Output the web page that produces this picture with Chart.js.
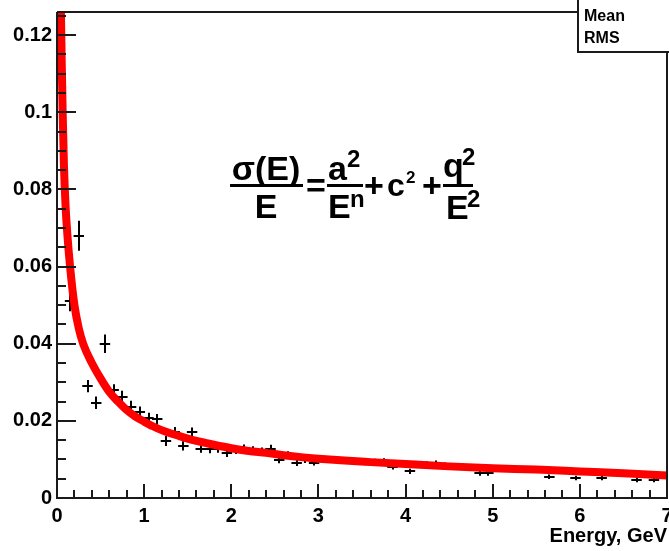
<!DOCTYPE html>
<html>
<head>
<meta charset="utf-8">
<script src="https://cdn.jsdelivr.net/npm/chart.js"></script>
<style>
  body { margin: 0; background: #fff; }
</style>
</head>
<body>
<canvas id="chart" width="669" height="551"></canvas>
<script>
// measured points: bin centre (GeV), sigma/E, stat error
const dataE = [0.15, 0.25, 0.35, 0.45, 0.55, 0.65, 0.75, 0.85, 0.95, 1.05, 1.15, 1.25, 1.35, 1.45, 1.55,
  1.65, 1.75, 1.85, 1.95, 2.05, 2.15, 2.25, 2.35, 2.45, 2.55, 2.65, 2.75, 2.85, 2.95,
  3.05, 3.15, 3.25, 3.35, 3.55, 3.65, 3.75, 3.85, 3.95, 4.05, 4.25, 4.35, 4.45,
  4.85, 4.95, 5.05, 5.15, 5.55, 5.65, 5.85, 5.95, 6.25, 6.65, 6.85]
const dataSigma = [0.051, 0.068, 0.029, 0.0247, 0.040, 0.0279, 0.0262, 0.0237, 0.0222, 0.0207, 0.0204, 0.0148, 0.0171, 0.0135, 0.0171,
  0.0128, 0.0127, 0.0128, 0.0117, 0.0124, 0.0129, 0.0124, 0.0121, 0.0128, 0.0098, 0.0113, 0.0091, 0.0098, 0.0091,
  0.0099, 0.0099, 0.0099, 0.0096, 0.0096, 0.0095, 0.0096, 0.0081, 0.0089, 0.0069, 0.0088, 0.0090, 0.0085,
  0.0064, 0.0064, 0.0078, 0.0077, 0.0076, 0.0055, 0.0074, 0.0052, 0.0052, 0.0047, 0.0047]
const dataErr = [0.0026, 0.0039, 0.0016, 0.0016, 0.0024, 0.0016, 0.0016, 0.0015, 0.0015, 0.0014, 0.0014, 0.0013, 0.0013, 0.0012, 0.0012,
  0.0011, 0.0011, 0.0011, 0.0011, 0.0010, 0.0010, 0.0010, 0.0010, 0.0010, 0.0008, 0.0008, 0.0008, 0.0007, 0.0007,
  0.0007, 0.0007, 0.0007, 0.0007, 0.0007, 0.0007, 0.0007, 0.0007, 0.0007, 0.0007, 0.0007, 0.0007, 0.0007,
  0.0006, 0.0006, 0.0006, 0.0006, 0.0006, 0.0006, 0.0006, 0.0006, 0.0006, 0.0006, 0.0006]
const binHalf = 0.06

// fit curve
const fitE = [0.045, 0.055, 0.065, 0.08, 0.10, 0.12, 0.15, 0.20, 0.25, 0.30, 0.40, 0.50, 0.60, 0.70, 0.80, 0.90,
  1.00, 1.10, 1.20, 1.30, 1.40, 1.50, 1.60, 1.70, 1.80, 2.00, 2.20, 2.40, 2.60, 2.80, 3.00,
  3.30, 3.60, 4.00, 4.50, 5.00, 5.50, 6.00, 6.50, 7.00]
const fitSigma = [0.126, 0.112, 0.100, 0.086, 0.075, 0.068, 0.060, 0.050, 0.044, 0.040, 0.035, 0.031, 0.0275, 0.0250, 0.0228, 0.0211,
  0.0198, 0.0186, 0.0176, 0.0168, 0.0161, 0.0154, 0.0148, 0.0143, 0.0138, 0.0129, 0.0122, 0.0117, 0.0111, 0.0106, 0.0102,
  0.0097, 0.0093, 0.0088, 0.0082, 0.0077, 0.0074, 0.0069, 0.0064, 0.0058]

const xTicks = [0, 1, 2, 3, 4, 5, 6, 7]
const yTicks = [0, 0.02, 0.04, 0.06, 0.08, 0.1, 0.12]
const xTitle = 'Energy, GeV'
const statLabels = ['Mean', 'RMS']

const font = '"Liberation Sans", Arial, Helvetica, sans-serif'
const ink = '#1a1a1a'

// ROOT style frame: ticks point inwards, stats box in the corner, formula text
const rootFrame = {
  id: 'rootFrame',
  beforeDatasetsDraw(chart) {
    const ctx = chart.ctx
    const x = chart.scales.x, y = chart.scales.y
    ctx.save()
    ctx.strokeStyle = '#000'
    ctx.lineWidth = 2
    ctx.beginPath()
    dataE.forEach((e, i) => {
      const px = Math.round(x.getPixelForValue(e))
      const py = Math.round(y.getPixelForValue(dataSigma[i]))
      ctx.moveTo(x.getPixelForValue(e - binHalf), py)
      ctx.lineTo(x.getPixelForValue(e + binHalf), py)
      ctx.moveTo(px, y.getPixelForValue(dataSigma[i] - dataErr[i]))
      ctx.lineTo(px, y.getPixelForValue(dataSigma[i] + dataErr[i]))
    })
    ctx.stroke()
    ctx.restore()
  },
  afterDraw(chart) {
    const ctx = chart.ctx
    const a = chart.chartArea
    const x = chart.scales.x, y = chart.scales.y
    ctx.save()
    ctx.strokeStyle = ink
    ctx.lineWidth = 2

    // frame
    ctx.beginPath()
    ctx.moveTo(a.left, a.top)
    ctx.lineTo(a.left, a.bottom)
    ctx.lineTo(a.right, a.bottom)
    ctx.lineTo(a.right, 52)
    ctx.moveTo(a.left, a.top)
    ctx.lineTo(578, a.top)
    ctx.stroke()

    // x ticks
    ctx.beginPath()
    for (let v = 0; v <= 7.001; v += 0.2) {
      const px = Math.round(x.getPixelForValue(v))
      const major = Math.abs(v - Math.round(v)) < 0.01
      ctx.moveTo(px, a.bottom)
      ctx.lineTo(px, a.bottom - (major ? 14 : 8))
    }
    // y ticks
    for (let v = 0; v <= 0.1261; v += 0.005) {
      const py = Math.round(y.getPixelForValue(v))
      const major = Math.abs(v / 0.02 - Math.round(v / 0.02)) < 0.01
      ctx.moveTo(a.left, py)
      ctx.lineTo(a.left + (major ? 19 : 9), py)
    }
    ctx.stroke()

    // stats box
    ctx.fillStyle = '#fff'
    ctx.fillRect(578, 0, 91, 52)
    ctx.beginPath()
    ctx.moveTo(578, 0)
    ctx.lineTo(578, 52)
    ctx.lineTo(669, 52)
    ctx.stroke()
    ctx.fillStyle = '#000'
    ctx.font = 'bold 16px ' + font
    ctx.textBaseline = 'alphabetic'
    ctx.fillText(statLabels[0], 584, 21)
    ctx.fillText(statLabels[1], 584, 43)

    // formula
    const big = 'bold 34px ' + font
    const sup = 'bold 24px ' + font
    const txt = (s, f, px, py, align) => {
      ctx.font = f
      ctx.textAlign = align || 'left'
      ctx.fillText(s, px, py)
    }
    txt('σ(E)', big, 266, 180, 'center')
    ctx.fillRect(230, 184, 73, 3)
    txt('E', big, 266, 218, 'center')
    txt('=', big, 316, 197, 'center')
    ctx.fillRect(327, 184, 36, 3)
    txt('a', big, 328, 180)
    txt('2', sup, 347, 167)
    txt('E', big, 328, 218)
    txt('n', sup, 350, 207)
    txt('+', big, 374, 197, 'center')
    txt('c', 'bold 32px ' + font, 387, 196)
    txt('2', 'bold 17px ' + font, 406, 183)
    txt('+', big, 432, 197, 'center')
    ctx.fillRect(443, 184, 30, 3)
    txt('q', big, 443, 177)
    txt('2', sup, 462, 165)
    txt('E', big, 446, 219)
    txt('2', sup, 467, 207)
    ctx.restore()
  }
}

const noPad = (s) => { s.paddingLeft = 0; s.paddingRight = 0; s.paddingTop = 0; s.paddingBottom = 0 }

const ctx = document.getElementById('chart')
new Chart(ctx, {
  type: 'scatter',
  data: {
    datasets: [{
      data: dataE.map((e, i) => ({ x: e, y: dataSigma[i] })),
      pointRadius: 0
    }, {
      data: fitE.map((e, i) => ({ x: e, y: fitSigma[i] })),
      showLine: true,
      borderColor: '#ff0000',
      borderWidth: 8,
      pointRadius: 0,
      cubicInterpolationMode: 'monotone',
      clip: 0
    }]
  },
  options: {
    responsive: false,
    animation: false,
    layout: { autoPadding: false, padding: { top: 12, right: 2, left: 0, bottom: 0 } },
    plugins: { legend: { display: false }, tooltip: { enabled: false } },
    scales: {
      x: {
        type: 'linear',
        min: 0,
        max: 7,
        afterBuildTicks: (s) => { s.ticks = xTicks.map(v => ({ value: v })) },
        afterFit: (s) => { s.height = 53; noPad(s) },
        grid: { display: false, drawTicks: false },
        border: { display: false },
        ticks: { color: '#000', font: { family: font, size: 20, weight: 'bold' }, padding: 6, maxRotation: 0 },
        title: {
          display: true, text: xTitle, align: 'end', color: '#000',
          font: { family: font, size: 20, weight: 'bold' }, padding: { top: 0, bottom: 3 }
        }
      },
      y: {
        min: 0,
        max: 0.126,
        afterBuildTicks: (s) => { s.ticks = yTicks.map(v => ({ value: v })) },
        afterFit: (s) => { s.width = 57; noPad(s) },
        grid: { display: false, drawTicks: false },
        border: { display: false },
        ticks: {
          color: '#000', font: { family: font, size: 20, weight: 'bold' }, padding: 5,
          callback: (v) => String(Math.round(v * 100) / 100)
        }
      }
    }
  },
  plugins: [rootFrame]
})
</script>
</body>
</html>
